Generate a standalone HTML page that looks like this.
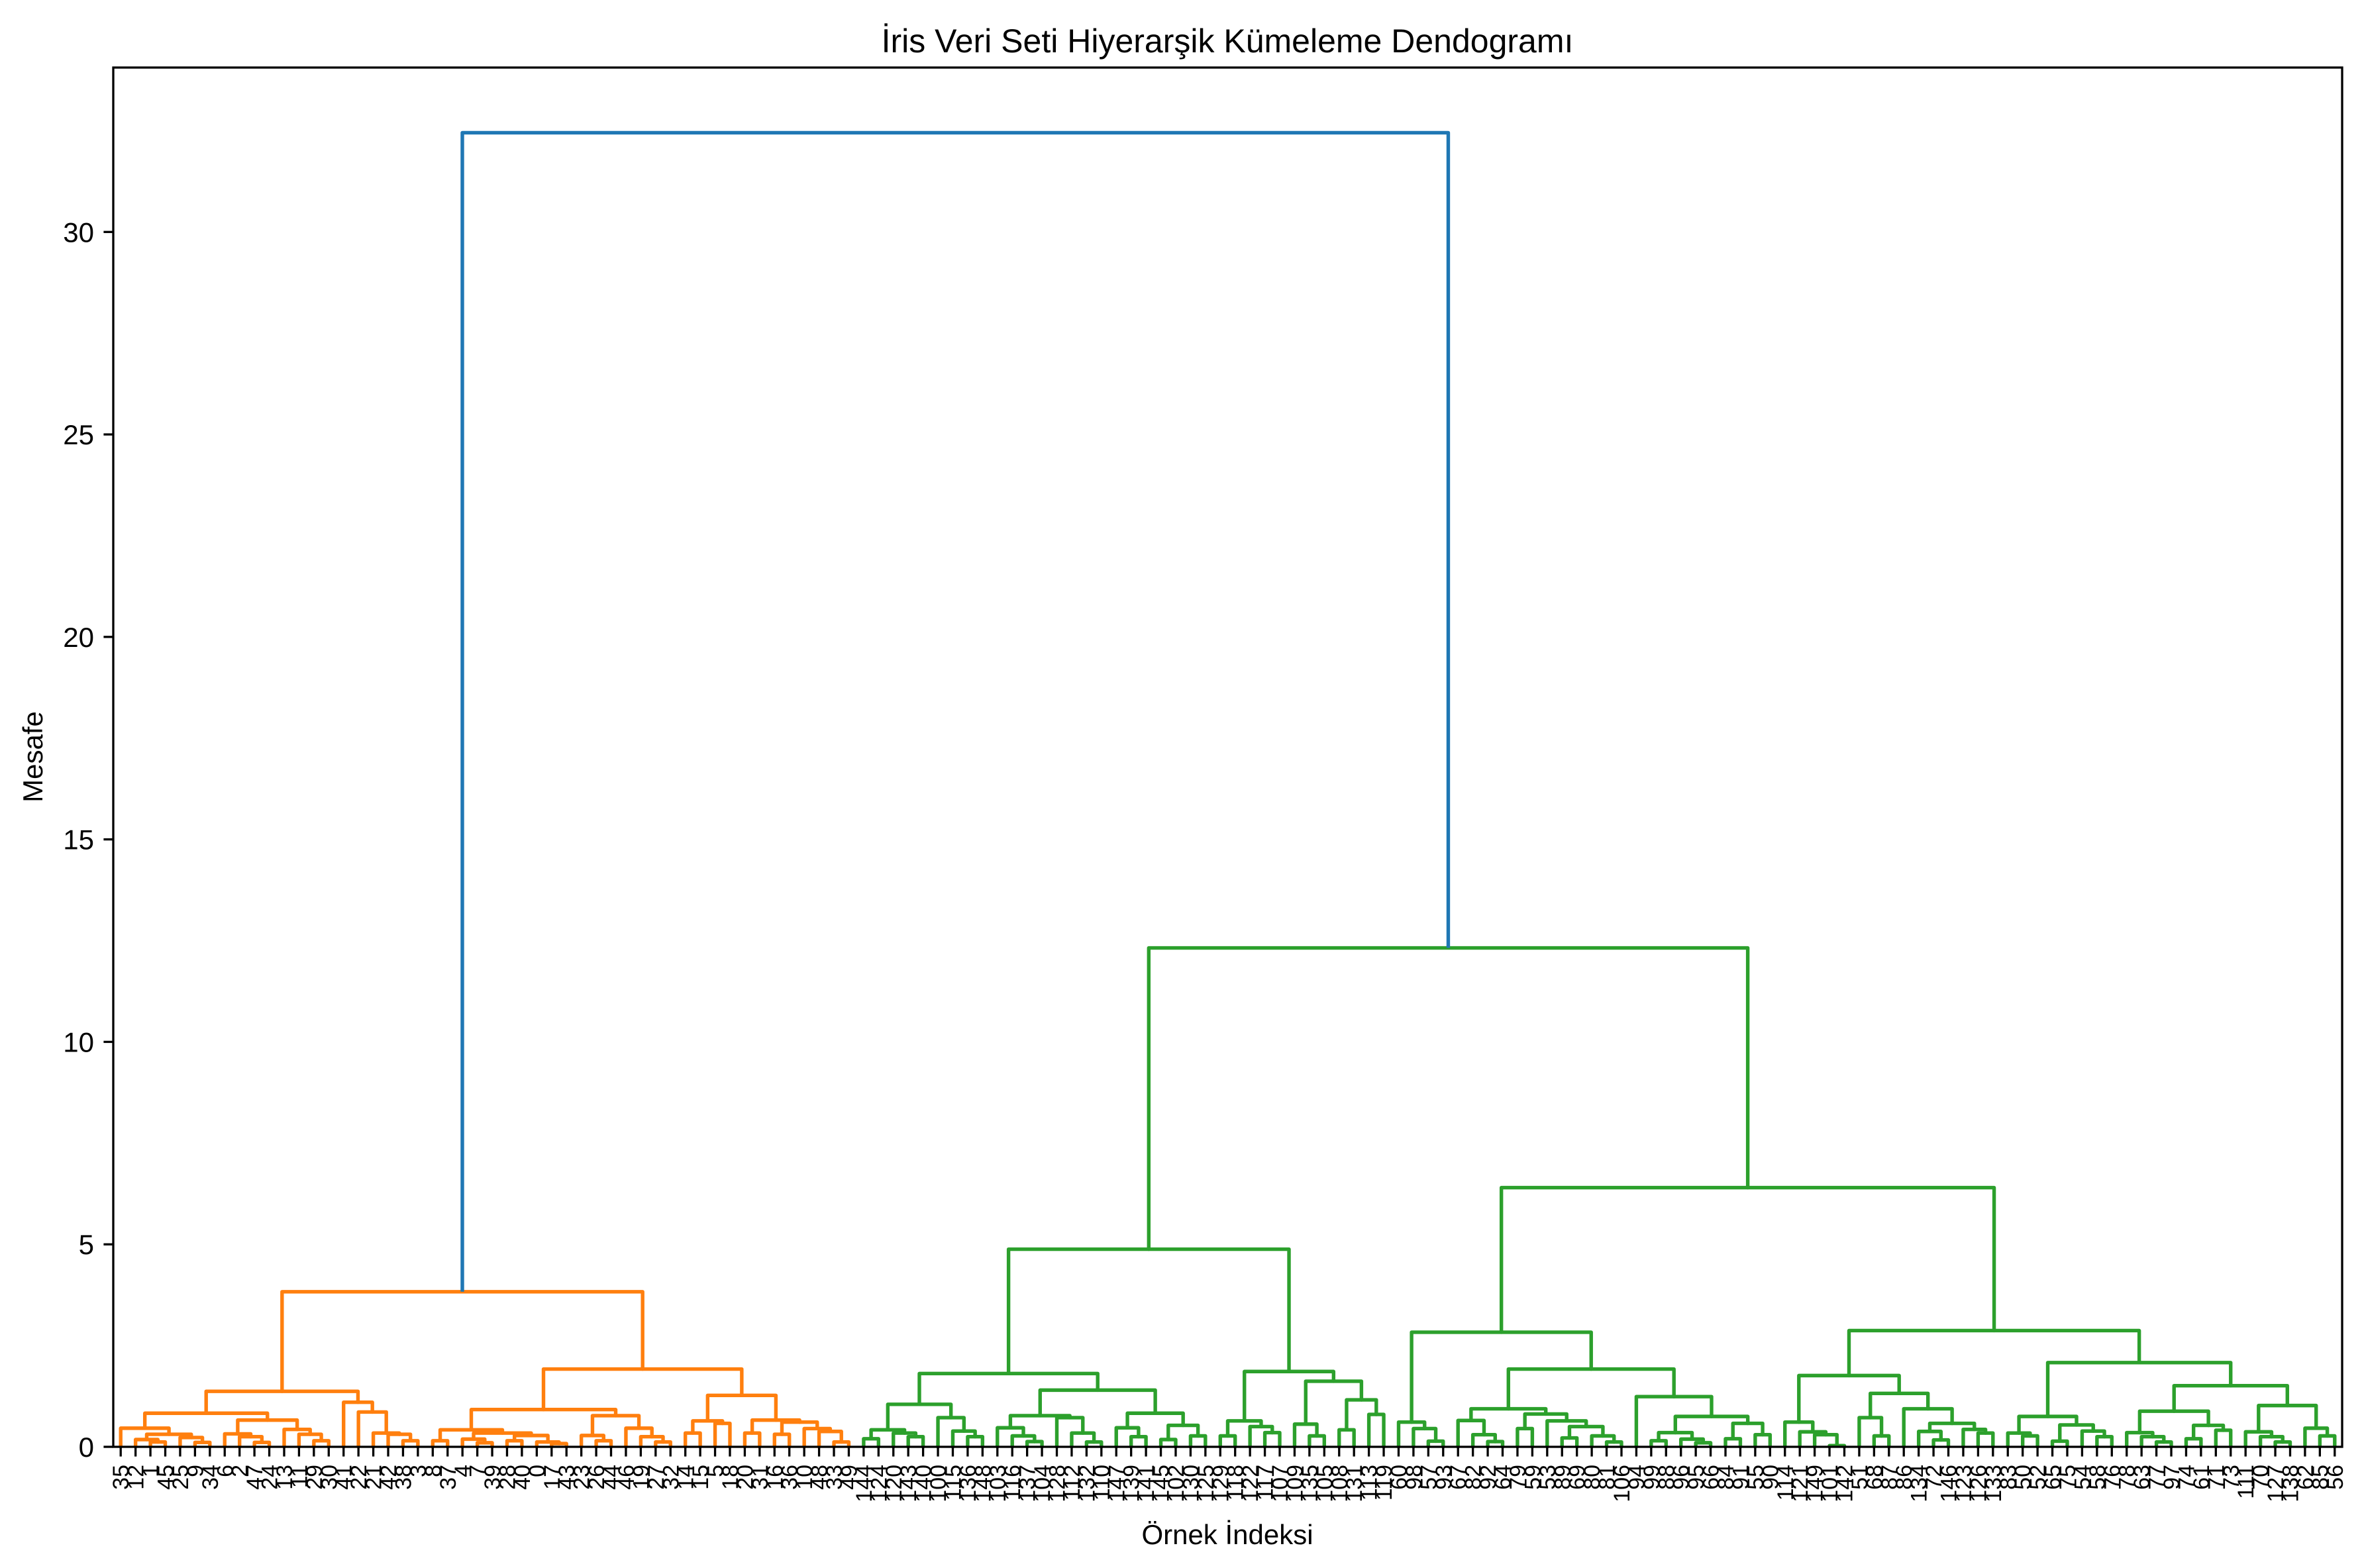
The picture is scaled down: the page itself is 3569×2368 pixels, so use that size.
<!DOCTYPE html>
<html>
<head>
<meta charset="utf-8">
<style>
  html, body { margin: 0; padding: 0; background: #ffffff; }
  svg { display: block; font-family: "Liberation Sans", "DejaVu Sans", sans-serif; }
</style>
</head>
<body>
<svg id="chart" width="3569" height="2368" viewBox="0 0 3569 2368" xmlns="http://www.w3.org/2000/svg">
  <rect x="0" y="0" width="3569" height="2368" fill="#ffffff"/>
  <text x="1853" y="79" font-size="50" text-anchor="middle" fill="#000">İris Veri Seti Hiyerarşik Kümeleme Dendogramı</text>
  <text x="1853" y="2332" font-size="42" text-anchor="middle" fill="#000">Örnek İndeksi</text>
  <text transform="translate(64,1143) rotate(-90)" font-size="42" text-anchor="middle" fill="#000">Mesafe</text>
  <g id="links"></g>
  <g id="yaxis"></g>
  <g id="xaxis"></g>
  <rect x="171" y="102" width="3365" height="2083" fill="none" stroke="#000" stroke-width="3.3"/>
</svg>
<script>
// ---- data ----
const leafLabels = [35,12,1,45,25,9,34,6,2,47,24,13,11,29,30,41,22,21,42,38,3,8,37,4,7,39,28,40,0,17,43,23,26,44,46,19,27,32,14,15,5,18,20,31,16,36,10,48,33,49,
 144,124,120,143,140,100,115,136,148,103,116,137,104,128,112,132,110,147,139,141,145,102,130,125,129,118,122,117,107,109,135,105,108,131,113,119,
 60,98,57,93,67,82,92,64,79,59,53,89,69,80,81,106,94,99,88,96,95,66,84,91,55,90,
 114,121,149,101,142,51,68,87,86,134,72,146,123,126,133,83,50,52,65,75,54,58,76,78,63,77,97,74,61,71,73,111,70,127,138,62,85,56];
const yTicks = [0,5,10,15,20,25,30];
// merge tree: [height, left, right]; a bare number is a leaf position
const orangeTree = [3.83,
  [1.37,
    [0.83, [0.46, 0, [0.31, [0.18, 1, [0.12, 2, 3]], [0.23, 4, [0.11, 5, 6]]]],
           [0.66, [0.32, 7, [0.25, 8, [0.11, 9, 10]]], [0.43, 11, [0.31, 12, [0.15, 13, 14]]]]],
    [1.1, 15, [0.86, 16, [0.34, 17, [0.31, 18, [0.15, 19, 20]]]]]],
  [1.92,
    [0.92, [0.42, [0.15, 21, 22], [0.34, [0.19, 23, [0.1, 24, 25]], [0.28, [0.15, 26, 27], [0.12, 28, [0.08, 29, 30]]]]],
           [0.77, [0.28, 31, [0.15, 32, 33]], [0.46, 34, [0.25, 35, [0.12, 36, 37]]]]],
    [1.27, [0.64, [0.34, 38, 39], [0.58, 40, 41]],
           [0.66, [0.34, 42, 43], [0.61, [0.31, 44, 45], [0.45, 46, [0.38, 47, [0.12, 48, 49]]]]]]]];
const greenTree = [12.32,
  [4.88,
    [1.81, [1.05, [0.42, [0.2, 50, 51], [0.34, 52, [0.25, 53, 54]]], [0.72, 55, [0.39, 56, [0.25, 57, 58]]]],
           [1.4, [0.77, [0.47, 59, [0.27, 60, [0.13, 61, 62]]], [0.72, 63, [0.34, 64, [0.12, 65, 66]]]],
                 [0.83, [0.47, 67, [0.25, 68, 69]], [0.53, [0.18, 70, 71], [0.27, 72, 73]]]]],
    [1.86, [0.64, [0.27, 74, 75], [0.5, 76, [0.35, 77, 78]]],
           [1.62, [0.56, 79, [0.27, 80, 81]], [1.16, [0.42, 82, 83], [0.8, 84, 85]]]]],
  [6.4,
    [2.83, [0.61, 86, [0.45, 87, [0.14, 88, 89]]],
           [1.92, [0.94, [0.65, 90, [0.3, 91, [0.13, 92, 93]]],
                         [0.81, [0.45, 94, 95], [0.64, 96, [0.5, [0.22, 97, 98], [0.27, 99, [0.12, 100, 101]]]]]],
                  [1.24, 102, [0.75, [0.35, [0.15, 103, 104], [0.19, 105, [0.1, 106, 107]]],
                                     [0.58, [0.2, 108, 109], [0.3, 110, 111]]]]]],
    [2.87, [1.76, [0.61, 112, [0.37, 113, [0.3, 114, [0.03, 115, 116]]]],
                  [1.32, [0.72, 117, [0.27, 118, 119]],
                         [0.94, 120, [0.58, [0.38, 121, [0.17, 122, 123]], [0.43, 124, [0.34, 125, 126]]]]]],
           [2.08, [0.75, [0.34, 127, [0.27, 128, 129]], [0.54, [0.14, 130, 131], [0.39, 132, [0.25, 133, 134]]]],
                  [1.51, [0.88, [0.35, 135, [0.25, 136, [0.12, 137, 138]]], [0.53, [0.2, 139, 140], [0.41, 141, 142]]],
                         [1.02, [0.37, 143, [0.25, 144, [0.12, 145, 146]]], [0.46, 147, [0.27, 148, 149]]]]]]]];
const rootHeight = 32.45;

// ---- axes ----
const X0 = 171, X1 = 3536, Y0 = 2185, Y1 = 102;
const YMAX = 34.06;
const nLeaves = leafLabels.length;
function xScale(pos) { return X0 + (5 + 10 * pos) / (10 * nLeaves) * (X1 - X0); }
function yScale(v) { return Y0 - v / YMAX * (Y0 - Y1); }
const NS = "http://www.w3.org/2000/svg";
const linksG = document.getElementById('links');
const LW = 5.4;

function mk(tag, attrs, parent) {
  const e = document.createElementNS(NS, tag);
  for (const k in attrs) e.setAttribute(k, attrs[k]);
  parent.appendChild(e);
  return e;
}

// returns {x, h}
function layout(node, color) {
  if (typeof node === 'number') return { x: xScale(node), h: 0 };
  const L = layout(node[1], color);
  const R = layout(node[2], color);
  const h = node[0];
  const p = mk('path', {
    d: `M${L.x},${yScale(L.h)} L${L.x},${yScale(h)} L${R.x},${yScale(h)} L${R.x},${yScale(R.h)}`,
    fill: 'none', stroke: color, 'stroke-width': LW, 'stroke-linejoin': 'round', 'stroke-linecap': 'round'
  }, linksG);
  
  
  return { x: (L.x + R.x) / 2, h: h };
}
const oRes = layout(orangeTree, '#ff7f0e');
const gRes = layout(greenTree, '#2ca02c');
const rootPath = mk('path', {
  d: `M${oRes.x},${yScale(oRes.h)} L${oRes.x},${yScale(rootHeight)} L${gRes.x},${yScale(rootHeight)} L${gRes.x},${yScale(gRes.h)}`,
  fill: 'none', stroke: '#1f77b4', 'stroke-width': LW, 'stroke-linejoin': 'round'
}, linksG);



// y axis
const yG = document.getElementById('yaxis');
yTicks.forEach(v => {
  const y = yScale(v);
  const t = mk('line', { x1: X0 - 14.6, x2: X0, y1: y, y2: y, stroke: '#000', 'stroke-width': 3.3 }, yG);
  
  
  const lb = mk('text', { x: X0 - 29, y: y + 15, 'font-size': 42, 'text-anchor': 'end', fill: '#000' }, yG);
  lb.textContent = String(v);
  
  
});

// x axis leaf labels
const xG = document.getElementById('xaxis');
leafLabels.forEach((lab, i) => {
  const x = xScale(i);
  const t = mk('line', { x1: x, x2: x, y1: Y0, y2: Y0 + 14.6, stroke: '#000', 'stroke-width': 3.3 }, xG);
  
  
  const lb = mk('text', { transform: `translate(${x + 12},${Y0 + 27}) rotate(-90)`, 'font-size': 34, 'text-anchor': 'end', fill: '#000' }, xG);
  lb.textContent = String(lab);
  
  
});
</script>
</body>
</html>
